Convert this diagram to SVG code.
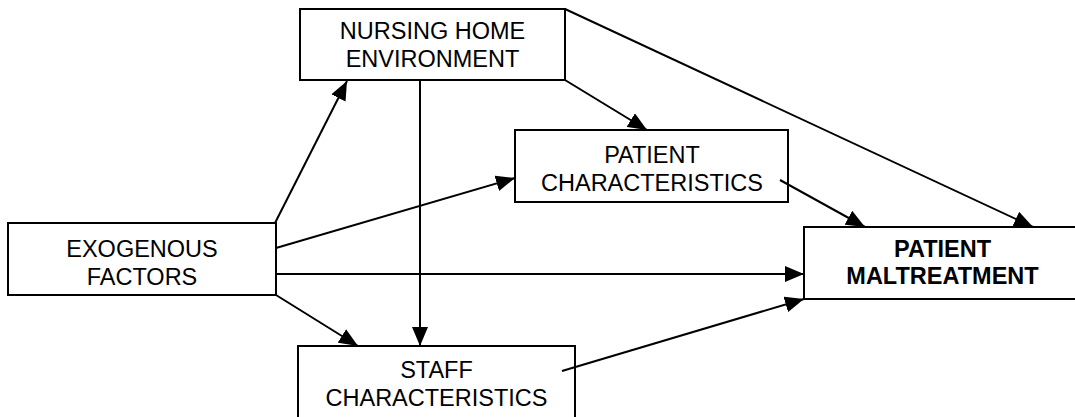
<svg xmlns="http://www.w3.org/2000/svg" width="1075" height="417" viewBox="0 0 1075 417">
<style>
.box{fill:#fff;stroke:#000;stroke-width:2}
.t{font-family:"Liberation Sans",Arial,sans-serif;font-size:23.5px;fill:#000;text-anchor:middle}
.b{font-weight:bold}
.c{stroke:#000;stroke-width:2;fill:none;marker-end:url(#ah)}
</style>
<defs>
<marker id="ah" markerUnits="userSpaceOnUse" viewBox="0 0 19 16" refX="19" refY="8" markerWidth="19" markerHeight="16" orient="auto">
<path d="M0,0 L19,8 L0,16 Z" fill="#000"/>
</marker>
</defs>
<rect width="1075" height="417" fill="#fff"/>
<g id="nursing-home">
<rect class="box" x="300" y="9" width="265" height="71"/>
<text class="t" x="432.5" y="39">NURSING HOME</text>
<text class="t" x="432.5" y="67">ENVIRONMENT</text>
</g>
<g id="patient-characteristics">
<rect class="box" x="515" y="130" width="273" height="72"/>
<text class="t" x="652" y="163">PATIENT</text>
<text class="t" x="652" y="191">CHARACTERISTICS</text>
</g>
<g id="exogenous">
<rect class="box" x="8" y="223" width="268" height="72"/>
<text class="t" x="142" y="257">EXOGENOUS</text>
<text class="t" x="142" y="285">FACTORS</text>
</g>
<g id="maltreatment">
<rect class="box" x="804" y="227" width="278" height="72"/>
<text class="t b" x="942.5" y="257">PATIENT</text>
<text class="t b" x="942.5" y="284">MALTREATMENT</text>
</g>
<g id="staff">
<rect class="box" x="298" y="346" width="277" height="80"/>
<text class="t" x="436.5" y="378">STAFF</text>
<text class="t" x="436.5" y="406">CHARACTERISTICS</text>
</g>
<g id="connectors">
<line class="c" x1="275" y1="223" x2="347" y2="81"/>
<line class="c" x1="276" y1="248" x2="515" y2="178"/>
<line class="c" x1="276" y1="274" x2="804" y2="274"/>
<line class="c" x1="276" y1="295" x2="358" y2="346"/>
<line class="c" x1="420" y1="80" x2="420" y2="346"/>
<line class="c" x1="565" y1="80" x2="647" y2="130"/>
<line class="c" x1="565" y1="9" x2="1033" y2="227"/>
<line class="c" x1="780" y1="180" x2="865" y2="227"/>
<line class="c" x1="562" y1="371" x2="804" y2="299"/>
</g>
</svg>
